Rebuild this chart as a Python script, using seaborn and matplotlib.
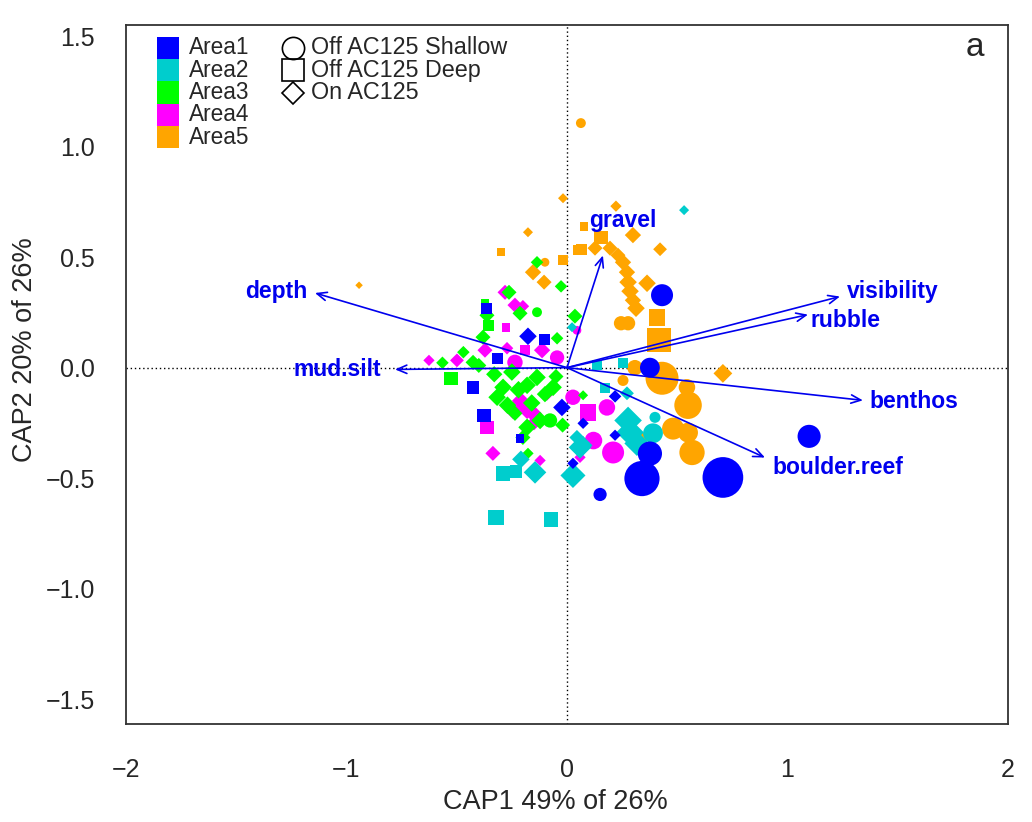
import numpy as np
import pandas as pd
import matplotlib.pyplot as plt
import seaborn as sns
from matplotlib.patches import Rectangle

sns.set_style("white")
plt.rcParams['font.family'] = ['Liberation Sans', 'DejaVu Sans']

# Legend categories
area_names = ["Area1", "Area2", "Area3", "Area4", "Area5"]
area_colors = ["#0000FF", "#00CDCD", "#00FF00", "#FF00FF", "#FFA500"]
hab_codes = ["c", "s", "d"]
hab_names = ["Off AC125 Shallow", "Off AC125 Deep", "On AC125"]

# Site scores (CAP1, CAP2), habitat code and relative point size, per area
area5_cap1 = [0.063, -0.018, 0.222, 0.077, 0.154, 0.299, 0.068, 0.127, 0.195, 0.231,
              0.254, 0.272, 0.277, 0.286, 0.299, 0.313, 0.363, 0.422, -0.177, -0.299,
              -0.100, -0.018, 0.050, -0.154, -0.104, -0.943, 0.245, 0.277, 0.408, 0.417,
              0.308, 0.254, 0.431, 0.544, 0.549, 0.707, 0.481, 0.549, 0.567, 0.340]
area5_cap2 = [1.107, 0.767, 0.731, 0.640, 0.590, 0.600, 0.536, 0.541, 0.541, 0.509,
              0.477, 0.432, 0.387, 0.346, 0.305, 0.269, 0.382, 0.536, 0.613, 0.523,
              0.477, 0.486, 0.532, 0.432, 0.387, 0.373, 0.201, 0.201, 0.228, 0.124,
              0.000, -0.058, -0.048, -0.089, -0.170, -0.026, -0.276, -0.294, -0.384, -0.320]
area5_hab = list("cddssdsddddddddddddscssddd" "ccsscccccdccc" "c")
area5_size = [9, 8, 9, 8, 12, 13, 10, 12, 12, 12,
              13, 13, 14, 14, 13, 14, 14, 11, 8, 7,
              8, 9, 9, 13, 12, 6, 13, 13, 15, 22,
              14, 10, 30, 15, 25, 15, 20, 18, 23, 10]

area4_cap1 = [-0.281, -0.236, -0.200, -0.277, -0.363, -0.336, -0.122, -0.181, -0.245, -0.091,
              -0.154, 0.045, 0.027, 0.181, 0.095, 0.209, 0.059, -0.626, -0.045, -0.499,
              -0.190, -0.113, -0.236, -0.372, -0.272, -0.210, -0.150, 0.120]
area4_cap2 = [0.341, 0.283, 0.278, 0.183, -0.270, -0.388, -0.420, -0.193, -0.193, -0.116,
              -0.207, 0.169, -0.134, -0.180, -0.203, -0.384, -0.406, 0.033, 0.046, 0.033,
              0.079, 0.079, 0.024, 0.079, 0.088, -0.150, -0.250, -0.330]
area4_hab = list("dddssdddddd" "cccsc" "ddcdsdcdd" "ddc")
area4_size = [12, 12, 10, 8, 12, 12, 9, 14, 14, 12,
              14, 8, 14, 15, 15, 20, 9, 9, 13, 11,
              9, 13, 14, 12, 10, 14, 12, 16]

area3_cap1 = [-0.136, -0.027, -0.263, -0.213, -0.136, -0.363, -0.358, -0.381, -0.045, 0.036,
              0.073, -0.526, -0.317, -0.290, -0.181, -0.136, -0.063, -0.181, -0.122, -0.077,
              -0.200, -0.177, -0.236, -0.372, -0.426, -0.565, -0.470, -0.400, -0.250, -0.100,
              -0.050, -0.020, -0.330, -0.270, -0.160, -0.220]
area3_cap2 = [0.477, 0.368, 0.341, 0.246, 0.251, 0.237, 0.192, 0.138, 0.133, 0.233,
              -0.125, -0.048, -0.134, -0.089, -0.080, -0.044, -0.089, -0.270, -0.239, -0.239,
              -0.316, -0.388, -0.207, 0.292, 0.024, 0.022, 0.070, 0.010, -0.020, -0.120,
              -0.040, -0.260, -0.030, -0.170, -0.160, -0.100]
area3_hab = list("ddddcdsddd" "dsdddddddc" "dddsdddddd" "dd" "dddd")
area3_size = [10, 10, 12, 12, 9, 12, 10, 12, 10, 12,
              8, 12, 14, 14, 14, 14, 14, 14, 14, 13,
              12, 9, 12, 7, 12, 10, 10, 12, 14, 13,
              12, 12, 13, 14, 14, 14]

area2_cap1 = [0.531, 0.023, 0.136, 0.254, 0.172, 0.272, 0.277, 0.286, 0.317, 0.399,
              0.390, 0.073, 0.045, 0.027, 0.059, -0.322, -0.073, -0.290, -0.231, -0.145,
              -0.209]
area2_cap2 = [0.713, 0.183, 0.010, 0.020, -0.093, -0.116, -0.239, -0.293, -0.343, -0.225,
              -0.297, -0.352, -0.316, -0.488, -0.361, -0.678, -0.687, -0.479, -0.470, -0.474,
              -0.415]
area2_hab = list("ddsssddddcc" "dddd" "ssssdd")
area2_size = [8, 8, 9, 9, 9, 11, 22, 22, 20, 10,
              18, 15, 12, 20, 18, 14, 13, 13, 11, 18,
              14]

area1_cap1 = [0.431, 0.376, 0.376, 0.340, 0.707, 1.098, 0.150, 0.218, 0.218, 0.073,
              0.027, -0.023, -0.177, -0.100, -0.363, -0.426, -0.376, -0.213, -0.313]
area1_cap2 = [0.328, 0.000, -0.389, -0.502, -0.497, -0.311, -0.574, -0.130, -0.306, -0.252,
              -0.433, -0.180, 0.142, 0.127, 0.269, -0.090, -0.217, -0.322, 0.042]
area1_hab = list("ccccccc" "dddddd" "ssssss")
area1_size = [20, 18, 22, 32, 37, 21, 12, 10, 9, 9,
              9, 14, 14, 10, 10, 11, 12, 8, 10]

# Environmental vectors (biplot arrows) and label positions
env_names = ["gravel", "depth", "visibility", "rubble", "benthos", "boulder.reef", "mud.silt"]
env_cap1 = [0.163, -1.143, 1.238, 1.093, 1.342, 0.898, -0.780]
env_cap2 = [0.508, 0.338, 0.322, 0.240, -0.148, -0.407, -0.008]
lab_cap1 = [0.254, -1.320, 1.478, 1.261, 1.574, 1.229, -1.043]
lab_cap2 = [0.667, 0.343, 0.346, 0.214, -0.153, -0.452, -0.008]

frames = []
for name, c1, c2, hb, sz in [
        ("Area5", area5_cap1, area5_cap2, area5_hab, area5_size),
        ("Area4", area4_cap1, area4_cap2, area4_hab, area4_size),
        ("Area3", area3_cap1, area3_cap2, area3_hab, area3_size),
        ("Area2", area2_cap1, area2_cap2, area2_hab, area2_size),
        ("Area1", area1_cap1, area1_cap2, area1_hab, area1_size)]:
    frames.append(pd.DataFrame({"CAP1": c1, "CAP2": c2, "hab": hb, "rel": sz, "area": name}))
df = pd.concat(frames, ignore_index=True)

# marker area in pt^2 (diamond given as tip-to-tip extent)
df["s"] = (0.72 * 1.1 * df["rel"]) ** 2
df.loc[df["hab"] == "d", "s"] = df.loc[df["hab"] == "d", "s"] * 1.3 / 2

W, H = 1032, 822
fig = plt.figure(figsize=(W / 100, H / 100), dpi=100)
ax = fig.add_axes([126 / W, 1 - 724 / H, 882 / W, 699 / H])

sns.scatterplot(data=df, x="CAP1", y="CAP2", hue="area", style="hab",
                palette=dict(zip(area_names, area_colors)),
                markers={"c": "o", "s": "s", "d": "D"},
                s=df["s"], linewidth=0, legend=False, ax=ax, zorder=3)

ax.axhline(0, color="black", lw=1, ls=(0, (1, 2)), zorder=1)
ax.axvline(0, color="black", lw=1, ls=(0, (1, 2)), zorder=1)

for nm, ex, ey, lx, ly in zip(env_names, env_cap1, env_cap2, lab_cap1, lab_cap2):
    ax.annotate("", xy=(ex, ey), xytext=(0, 0),
                arrowprops=dict(arrowstyle="->,head_length=0.7,head_width=0.3",
                                color="#0000EE", lw=1.2, shrinkA=0, shrinkB=0), zorder=4)
    ax.text(lx, ly, nm, color="#0000EE", fontsize=16.5, fontweight="bold",
            ha="center", va="center", zorder=5)

ax.set_xlim(-2, 2)
ax.set_ylim(-1.613, 1.551)
ax.set_xticks([-2, -1, 0, 1, 2])
ax.set_yticks([-1.5, -1.0, -0.5, 0.0, 0.5, 1.0, 1.5])
ax.set_yticklabels([f"{v:.1f}".replace("-", "\u2212") for v in [-1.5, -1.0, -0.5, 0.0, 0.5, 1.0, 1.5]])
ax.tick_params(axis="both", direction="out", length=11.5, width=1.2, labelsize=18, color="black")
ax.tick_params(axis="x", pad=13)
ax.tick_params(axis="y", pad=11)
for sp in ax.spines.values():
    sp.set_color("#333333")
    sp.set_linewidth(1.3)

ax.set_xlabel("CAP1 49% of 26%", fontsize=19.5)
ax.set_ylabel("CAP2 20% of 26%", fontsize=19.5)
ax.xaxis.set_label_coords((555 - 126) / 882, (724 - 802) / 699)
ax.xaxis.label.set_va("center")
ax.yaxis.set_label_coords((25 - 126) / 882, (724 - 350) / 699)
ax.yaxis.label.set_va("center")

ax.text((975 - 126) / 882, (724 - 48) / 699, "a", transform=ax.transAxes,
        fontsize=24, ha="center", va="center")

# legend: colour blocks for areas
def fx(px):
    return (px - 126) / 882

def fy(py):
    return (724 - py) / 699

for i, (nm, col) in enumerate(zip(area_names, area_colors)):
    yc = 48 + 22.3 * i
    ax.add_patch(Rectangle((fx(157), fy(yc + 11.2)), 22 / 882, 22.4 / 699,
                           transform=ax.transAxes, color=col, lw=0, zorder=6))
    ax.text(fx(189), fy(yc), nm, transform=ax.transAxes, fontsize=16.3,
            ha="left", va="center", zorder=6)

# legend: open symbols for habitat
for i, (code, nm) in enumerate(zip(hab_codes, hab_names)):
    yc = 48 + 22.3 * i
    mk = {"c": "o", "s": "s", "d": "D"}[code]
    ms = {"c": 16, "s": 15.5, "d": 11.5}[code]
    ax.plot([fx(293)], [fy(yc)], marker=mk, ms=ms, mfc="none", mec="black",
            mew=1.2, transform=ax.transAxes, zorder=6)
    ax.text(fx(311), fy(yc), nm, transform=ax.transAxes, fontsize=16.8,
            ha="left", va="center", zorder=6)

fig.savefig("out.png", dpi=100)
